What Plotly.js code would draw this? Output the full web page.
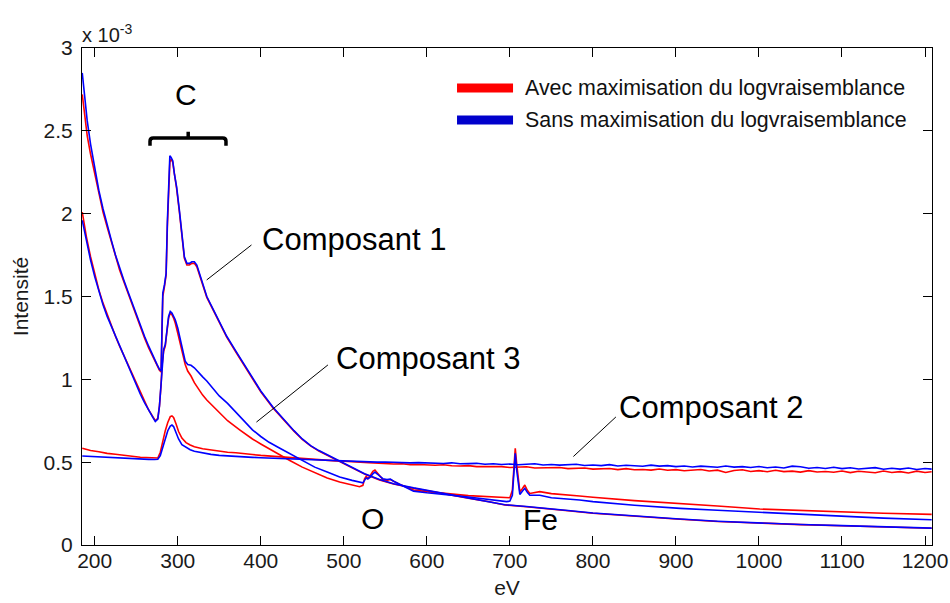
<!DOCTYPE html>
<html>
<head>
<meta charset="utf-8">
<script src="https://cdn.plot.ly/plotly-3.0.1.min.js"></script>
<style>
  html, body { margin: 0; padding: 0; background: #fff; }
  #chart { width: 950px; height: 603px; }
</style>
</head>
<body>
<div id="chart"></div>
<script>
// Energy-loss spectra of the three components (intensity in units of 1e-3)
// "Avec" = with log-likelihood maximisation (red), "Sans" = without (blue)

// ---- Composant 1 ----
const energyComp1 = [
  185, 188, 191, 195, 200, 205, 210, 215, 220, 225,
  230, 235, 240, 245, 250, 255, 260, 265, 270, 275,
  278, 280, 281, 282, 284, 286, 287.5, 289, 290.5, 292,
  294, 296, 298.7, 302, 305, 308, 311, 314, 317, 320,
  323, 326, 330, 335, 340, 347, 353, 359, 370, 380,
  390, 400, 415, 430, 440, 450, 460, 470, 480, 493,
  510, 525, 543, 560, 584, 600, 625, 650, 675, 694,
  720, 744, 770, 800, 850, 900, 950, 1000, 1050, 1100,
  1150, 1208
];
const comp1Avec = [
  2.72, 2.58, 2.47, 2.36, 2.24, 2.12, 2.01, 1.92, 1.83, 1.74,
  1.66, 1.59, 1.52, 1.45, 1.38, 1.31, 1.25, 1.19, 1.135, 1.085,
  1.055, 1.045, 1.28, 1.50, 1.56, 1.63, 1.92, 2.18, 2.31, 2.33,
  2.31, 2.24, 2.15, 2.01, 1.87, 1.73, 1.69, 1.69, 1.70, 1.70,
  1.68, 1.63, 1.57, 1.495, 1.445, 1.375, 1.315, 1.255, 1.165, 1.085,
  1.005, 0.925, 0.826, 0.742, 0.687, 0.637, 0.598, 0.567, 0.542, 0.507,
  0.463, 0.428, 0.393, 0.368, 0.343, 0.328, 0.303, 0.283, 0.261, 0.242,
  0.231, 0.221, 0.207, 0.192, 0.173, 0.157, 0.142, 0.131, 0.123, 0.116,
  0.109, 0.101
];
const comp1Sans = [
  2.85, 2.70, 2.56, 2.42, 2.27, 2.14, 2.03, 1.93, 1.84, 1.75,
  1.67, 1.60, 1.53, 1.46, 1.39, 1.32, 1.26, 1.20, 1.14, 1.09,
  1.06, 1.05, 1.30, 1.52, 1.57, 1.64, 1.95, 2.22, 2.35, 2.34,
  2.32, 2.24, 2.16, 2.02, 1.88, 1.74, 1.70, 1.70, 1.71, 1.71,
  1.69, 1.64, 1.58, 1.50, 1.45, 1.38, 1.32, 1.26, 1.17, 1.09,
  1.01, 0.93, 0.83, 0.745, 0.69, 0.64, 0.60, 0.57, 0.545, 0.51,
  0.465, 0.43, 0.395, 0.37, 0.345, 0.33, 0.305, 0.285, 0.262, 0.243,
  0.232, 0.222, 0.208, 0.193, 0.174, 0.158, 0.143, 0.132, 0.124, 0.117,
  0.110, 0.102
];

// ---- Composant 3 ----
const energyComp3 = [
  185, 190, 195, 200, 205, 210, 215, 220, 225, 230,
  235, 240, 245, 250, 255, 260, 265, 270, 273, 276,
  278, 280, 281, 283, 285, 287, 289, 291, 293, 295,
  297, 300, 303, 306, 309, 312, 316, 320, 325, 330,
  335, 340, 350, 360, 375, 390, 400, 410, 423, 435,
  450, 465, 480, 495, 510, 519, 523, 525, 527, 529,
  532, 535, 537.5, 540, 543, 547, 552, 556, 560, 570,
  584, 600, 650, 696, 700, 703, 705, 706.5, 708, 710,
  712, 715, 718, 721, 724, 736, 750, 784, 800, 850,
  905, 950, 1001, 1065, 1100, 1150, 1208
];
const comp3Avec = [
  2.01, 1.86, 1.74, 1.63, 1.54, 1.46, 1.39, 1.32, 1.26, 1.20,
  1.145, 1.09, 1.035, 0.975, 0.915, 0.865, 0.815, 0.775, 0.75, 0.765,
  0.84, 0.97, 1.08, 1.17, 1.20, 1.29, 1.37, 1.40, 1.39, 1.37,
  1.34, 1.28, 1.21, 1.14, 1.09, 1.05, 1.02, 0.98, 0.94, 0.905,
  0.875, 0.85, 0.80, 0.75, 0.694, 0.64, 0.61, 0.58, 0.543, 0.51,
  0.47, 0.435, 0.405, 0.38, 0.36, 0.352, 0.36, 0.40, 0.415, 0.40,
  0.42, 0.445, 0.453, 0.44, 0.42, 0.395, 0.39, 0.395, 0.385, 0.36,
  0.332, 0.322, 0.298, 0.282, 0.285, 0.33, 0.50, 0.584, 0.50, 0.40,
  0.322, 0.34, 0.362, 0.33, 0.311, 0.322, 0.31, 0.296, 0.288, 0.268,
  0.252, 0.235, 0.217, 0.205, 0.198, 0.192, 0.185
];
const comp3Sans = [
  1.96, 1.83, 1.72, 1.62, 1.53, 1.45, 1.38, 1.32, 1.26, 1.20,
  1.14, 1.09, 1.03, 0.97, 0.91, 0.86, 0.81, 0.77, 0.745, 0.76,
  0.84, 0.98, 1.10, 1.18, 1.21, 1.30, 1.38, 1.41, 1.40, 1.38,
  1.36, 1.31, 1.24, 1.17, 1.11, 1.09, 1.085, 1.07, 1.04, 1.015,
  0.99, 0.96, 0.90, 0.855, 0.774, 0.695, 0.655, 0.62, 0.584, 0.55,
  0.51, 0.47, 0.44, 0.41, 0.39, 0.378, 0.375, 0.39, 0.405, 0.40,
  0.41, 0.43, 0.44, 0.43, 0.415, 0.40, 0.395, 0.398, 0.385, 0.36,
  0.325, 0.315, 0.29, 0.262, 0.265, 0.30, 0.45, 0.553, 0.46, 0.36,
  0.305, 0.325, 0.342, 0.318, 0.30, 0.30, 0.285, 0.272, 0.262, 0.24,
  0.221, 0.21, 0.198, 0.181, 0.172, 0.162, 0.152
];

// ---- Composant 2 ----
const energyComp2 = [
  185, 195, 205, 215, 225, 235, 245, 255, 265, 272,
  276, 279, 282, 285, 288, 291, 293, 295, 298, 301,
  305, 310, 315, 320, 330, 340, 350, 360, 370, 380,
  390, 400, 410, 420, 430, 440, 450, 460, 470, 480,
  490, 500, 510, 520, 530, 540, 550, 560, 570, 580,
  590, 600, 610, 620, 630, 640, 650, 660, 670, 680,
  690, 700, 710, 720, 730, 740, 750, 760, 770, 780,
  790, 800, 810, 820, 830, 840, 850, 860, 870, 880,
  890, 900, 910, 920, 930, 940, 950, 960, 970, 980,
  990, 1000, 1010, 1020, 1030, 1040, 1050, 1060, 1070, 1080,
  1090, 1100, 1110, 1120, 1130, 1140, 1150, 1160, 1170, 1180,
  1190, 1200, 1208
];
const comp2Avec = [
  0.584, 0.570, 0.563, 0.553, 0.548, 0.540, 0.536, 0.530, 0.527, 0.522,
  0.525, 0.56, 0.63, 0.69, 0.74, 0.775, 0.779, 0.77, 0.73, 0.685,
  0.645, 0.618, 0.604, 0.593, 0.581, 0.573, 0.567, 0.560, 0.557, 0.550,
  0.546, 0.541, 0.537, 0.532, 0.529, 0.524, 0.521, 0.519, 0.513, 0.512,
  0.508, 0.506, 0.501, 0.500, 0.497, 0.494, 0.493, 0.489, 0.490, 0.485,
  0.486, 0.483, 0.481, 0.484, 0.478, 0.477, 0.479, 0.473, 0.474, 0.471,
  0.473, 0.468, 0.469, 0.472, 0.465, 0.466, 0.463, 0.468, 0.461, 0.462,
  0.465, 0.458, 0.459, 0.462, 0.455, 0.461, 0.454, 0.456, 0.452, 0.459,
  0.451, 0.455, 0.448, 0.450, 0.456, 0.447, 0.452, 0.438, 0.450, 0.454,
  0.444, 0.449, 0.442, 0.451, 0.443, 0.446, 0.440, 0.449, 0.441, 0.444,
  0.439, 0.447, 0.437, 0.445, 0.441, 0.436, 0.447, 0.438, 0.443, 0.435,
  0.446, 0.438, 0.442
];
const comp2Sans = [
  0.537, 0.534, 0.531, 0.528, 0.525, 0.523, 0.521, 0.519, 0.517, 0.516,
  0.518, 0.54, 0.59, 0.64, 0.69, 0.718, 0.724, 0.715, 0.68, 0.64,
  0.605, 0.588, 0.575, 0.566, 0.555, 0.547, 0.541, 0.537, 0.534, 0.532,
  0.529, 0.527, 0.525, 0.522, 0.520, 0.518, 0.516, 0.514, 0.512, 0.510,
  0.508, 0.507, 0.505, 0.503, 0.503, 0.500, 0.501, 0.498, 0.499, 0.496,
  0.497, 0.494, 0.495, 0.492, 0.496, 0.490, 0.491, 0.493, 0.487, 0.490,
  0.486, 0.489, 0.484, 0.487, 0.490, 0.483, 0.486, 0.482, 0.484, 0.487,
  0.480, 0.483, 0.479, 0.485, 0.477, 0.481, 0.478, 0.475, 0.482, 0.476,
  0.479, 0.473, 0.477, 0.471, 0.476, 0.474, 0.469, 0.477, 0.470, 0.473,
  0.468, 0.474, 0.466, 0.471, 0.465, 0.476, 0.472, 0.463, 0.468, 0.462,
  0.469, 0.461, 0.466, 0.459, 0.464, 0.467, 0.457, 0.463, 0.458, 0.465,
  0.456, 0.462, 0.458
];

// Axis ticks
const energyTicks = [200, 300, 400, 500, 600, 700, 800, 900, 1000, 1100, 1200];
const intensityTicks = [0, 0.5, 1, 1.5, 2, 2.5, 3];
const intensityTickText = ['0', '0.5', '1', '1.5', '2', '2.5', '3'];

const seriesNames = ['Avec maximisation du logvraisemblance', 'Sans maximisation du logvraisemblance'];
const componentNames = ['Composant 1', 'Composant 2', 'Composant 3'];
const edgeNames = ['C', 'O', 'Fe'];

const FONT = 'Liberation Sans, Arial, Helvetica, sans-serif';
const RED = '#ff0000';
const BLUE = '#0000ff';

function spectrum(x, y, color, name) {
  return {
    type: 'scatter', mode: 'lines', x: x, y: y, name: name,
    line: { color: color, width: 1.6 },
    showlegend: false, hoverinfo: 'x+y'
  };
}

const traces = [
  spectrum(energyComp1, comp1Avec, RED, seriesNames[0]),
  spectrum(energyComp3, comp3Avec, RED, seriesNames[0]),
  spectrum(energyComp2, comp2Avec, RED, seriesNames[0]),
  spectrum(energyComp1, comp1Sans, BLUE, seriesNames[1]),
  spectrum(energyComp3, comp3Sans, BLUE, seriesNames[1]),
  spectrum(energyComp2, comp2Sans, BLUE, seriesNames[1])
];

const axisCommon = {
  showline: true, linecolor: '#000', linewidth: 1,
  mirror: 'ticks', ticks: 'inside', ticklen: 9, tickwidth: 1, tickcolor: '#000',
  showgrid: false, zeroline: false,
  tickfont: { family: FONT, size: 21, color: '#1a1a1a' }
};

const leader = (x0, y0, x1, y1) => ({
  type: 'line', xref: 'x', yref: 'y', x0: x0, y0: y0, x1: x1, y1: y1,
  line: { color: '#000', width: 1 }
});

const label = (text, x, y, anchor, size) => ({
  text: text, x: x, y: y, xref: 'x', yref: 'y',
  xanchor: anchor, yanchor: 'middle', showarrow: false,
  font: { family: FONT, size: size, color: '#000' }
});

const layout = {
  width: 950, height: 603,
  margin: { l: 82, r: 18, t: 48, b: 58 },
  paper_bgcolor: '#fff', plot_bgcolor: '#fff',
  font: { family: FONT, color: '#1a1a1a' },
  xaxis: Object.assign({}, axisCommon, {
    range: [184.7, 1208.4], tickvals: energyTicks,
    ticklabelstandoff: -3,
    title: { text: 'eV', font: { family: FONT, size: 21, color: '#1a1a1a' }, standoff: 9 }
  }),
  yaxis: Object.assign({}, axisCommon, {
    range: [0, 3], tickvals: intensityTicks, ticktext: intensityTickText,
    ticklabelstandoff: 4,
    title: { text: 'Intensité', font: { family: FONT, size: 21, color: '#1a1a1a' }, standoff: 9 }
  }),
  shapes: [
    // brace over the carbon edge
    {
      type: 'path', xref: 'x', yref: 'y',
      path: 'M266.6,2.41 L266.6,2.437 Q266.6,2.457 270.5,2.457 L354.2,2.457 Q358.1,2.457 358.1,2.437 L358.1,2.41 M312.6,2.457 L312.6,2.494',
      line: { color: '#000', width: 3.5 }
    },
    leader(334.9, 1.600, 388.8, 1.811),
    leader(394.8, 0.742, 480.9, 1.087),
    leader(776.5, 0.534, 827.7, 0.773),
    // legend samples
    { type: 'line', xref: 'paper', yref: 'paper', x0: 0.4412, x1: 0.5071, y0: 0.9195, y1: 0.9195,
      line: { color: RED, width: 9 } },
    { type: 'line', xref: 'paper', yref: 'paper', x0: 0.4412, x1: 0.5071, y0: 0.8551, y1: 0.8551,
      line: { color: '#0000cc', width: 9 } }
  ],
  annotations: [
    label(edgeNames[0], 309.9, 2.722, 'center', 30),
    label(edgeNames[1], 534.5, 0.157, 'center', 30),
    label(edgeNames[2], 713.0, 0.151, 'left', 30),
    label(componentNames[0], 399.0, 1.847, 'left', 31),
    label(componentNames[2], 488.0, 1.123, 'left', 31),
    label(componentNames[1], 829.0, 0.830, 'left', 31),
    {
      text: 'x 10<sup>-3</sup>', xref: 'paper', yref: 'paper', x: -0.002, y: 1.03,
      xanchor: 'left', yanchor: 'middle', showarrow: false,
      font: { family: FONT, size: 20, color: '#1a1a1a' }
    },
    {
      text: seriesNames[0], xref: 'paper', yref: 'paper', x: 0.519, y: 0.9195,
      xanchor: 'left', yanchor: 'middle', showarrow: false,
      font: { family: FONT, size: 21.4, color: '#111' }
    },
    {
      text: seriesNames[1], xref: 'paper', yref: 'paper', x: 0.519, y: 0.8551,
      xanchor: 'left', yanchor: 'middle', showarrow: false,
      font: { family: FONT, size: 21.4, color: '#111' }
    }
  ]
};

Plotly.newPlot('chart', traces, layout, { displayModeBar: false, staticPlot: true });
</script>
</body>
</html>
